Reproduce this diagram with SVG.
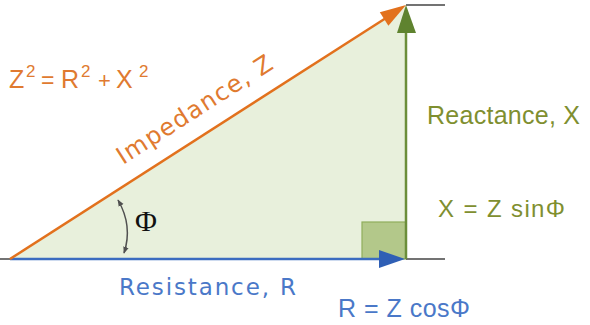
<svg xmlns="http://www.w3.org/2000/svg" width="590" height="325" viewBox="0 0 590 325">
<style>
.ax{stroke:#444;stroke-width:1.5;fill:none}
.t{font-family:"Liberation Sans",Arial,sans-serif}
.v{font-family:"DejaVu Sans",Verdana,sans-serif}
.or{fill:#e07a30}
.bl{fill:#4a78c8}
.ol{fill:#7f8f30}
</style>
<defs>
<marker id="ah" viewBox="0 0 10 10" refX="9" refY="5" markerWidth="7" markerHeight="7" orient="auto-start-reverse" markerUnits="userSpaceOnUse">
<path d="M0,1 L10,5 L0,9 Z" fill="#505050"/>
</marker>
</defs>
<rect width="590" height="325" fill="#fff"/>
<g id="triangle">
<polygon points="10,259 406,5 406,259" fill="#e8f0dc"/>
<rect x="362" y="222" width="44" height="37" fill="#b3c88a" stroke="#8fae5c" stroke-width="1.2"/>
</g>
<g id="connectors">
<line class="ax" x1="0" y1="259" x2="10" y2="259"/>
<line class="ax" x1="406" y1="259" x2="445" y2="259"/>
<line class="ax" x1="406" y1="5" x2="445" y2="5"/>
<line x1="10" y1="259" x2="382" y2="259" stroke="#3b6cc0" stroke-width="2.5"/>
<polygon points="405,259 379,250 379,268" fill="#2f5fb5"/>
<line x1="406" y1="259" x2="406" y2="30" stroke="#6b8e3a" stroke-width="2.5"/>
<polygon points="406,5 397,33 416,33" fill="#5f832f"/>
<line x1="10" y1="259" x2="386" y2="18" stroke="#e2711d" stroke-width="2.5"/>
<polygon points="406,5 388.4,25.7 379.8,12.3" fill="#e2711d"/>
<path d="M118,200 Q133,226 124,253" stroke="#505050" stroke-width="1.5" fill="none" marker-start="url(#ah)" marker-end="url(#ah)"/>
</g>
<g id="labels">
<text class="t or" font-size="25" y="88"><tspan x="9">Z</tspan><tspan x="26" y="77" font-size="17">2</tspan><tspan x="41" y="88" font-size="23">=</tspan><tspan x="61">R</tspan><tspan x="81" y="77" font-size="17">2</tspan><tspan x="98" y="88" font-size="22">+</tspan><tspan x="116" y="88">X</tspan><tspan x="139" y="77" font-size="17">2</tspan></text>
<text class="v or" font-size="24" textLength="180" transform="translate(123,165) rotate(-32.7)">Impedance, Z</text>
<text x="135" y="231" font-family="Liberation Serif,Times New Roman,serif" font-size="30" fill="#111">Φ</text>
<text class="v bl" x="119" y="295" font-size="23" textLength="177">Resistance, R</text>
<text class="t ol" x="427" y="124" font-size="25" textLength="153">Reactance, X</text>
<text class="t ol" x="438" y="217" font-size="24" textLength="127">X = Z sinΦ</text>
<text class="t bl" x="338" y="317" font-size="25" textLength="132">R = Z cosΦ</text>
</g>
</svg>
